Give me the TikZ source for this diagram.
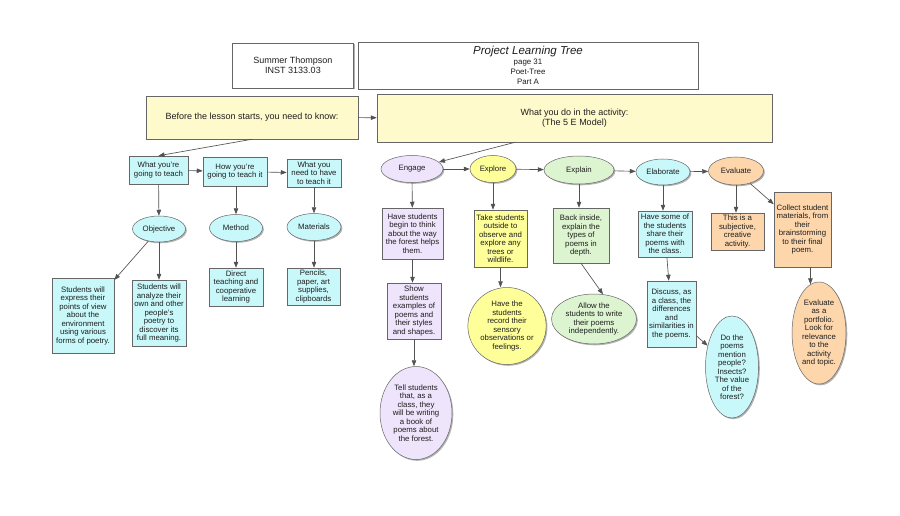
\documentclass[tikz,border=0pt]{standalone}
\usepackage{fontspec}
\setmainfont{Liberation Sans}
\usetikzlibrary{shapes.geometric,positioning,calc,shadows,arrows.meta}

\definecolor{cream}{HTML}{FFFACC}
\definecolor{aqua}{HTML}{C8F8FA}
\definecolor{lilac}{HTML}{EEE4FB}
\definecolor{lemon}{HTML}{FFFF99}
\definecolor{mint}{HTML}{DDF4D0}
\definecolor{peach}{HTML}{FDD6AC}
\definecolor{edge}{HTML}{666666}
\definecolor{ink}{HTML}{1E1E1E}

\begin{document}
\begin{tikzpicture}[x=1pt,y=-1pt]

        % Pixel grid of the page, origin top left
        \useasboundingbox (0,0) rectangle (900,516);
        \fill[white] (0,0) rectangle (900,516);

        % Looks of the boxes, the ovals and the arrows
        \tikzset{
            base/.style={draw=edge, line width=0.5pt, text=ink, align=center,
                inner sep=1pt, font=\fontsize{7.8}{8.5}\selectfont,
                drop shadow={shadow xshift=1.3pt, shadow yshift=-1.3pt,
                    fill=black, opacity=0.3}},
            card/.style args={#1x#2}{base, rectangle,
                minimum width=#1pt, minimum height=#2pt},
            oval/.style args={#1x#2}{base, ellipse,
                minimum width=#1pt, minimum height=#2pt},
            head/.style={font=\fontsize{9}{10}\selectfont},
            link/.style={draw=edge!80!black, line width=0.65pt,
                -{Triangle[length=6pt,width=4.5pt]}}
        }

        % Title and the two header bars
        \node (name) [card=121x45, fill=white, head] at (293, 65.5)
        {Summer Thompson\\INST 3133.03};
        \node (plt) [card=340x47, fill=white,
            font=\fontsize{7.9}{9.8}\selectfont] at (528, 65.5)
        {{\fontsize{11.5}{12}\selectfont\itshape Project Learning Tree}\\
            page 31\\Poet-Tree\\Part A};
        \node (before) [card=212x43, fill=cream, head] at (252, 117.5)
        {Before the lesson starts, you need to know:};
        \node (what) [card=395x48, fill=cream, head] at (574.5, 118)
        {What you do in the activity:\\(The 5 E Model)};

        % Left part: what, how and with what
        \begin{scope}[every node/.append style={fill=aqua}]
            \node (teach) [card=59x28] at (158.5, 170)
            {What you're\\going to teach};
            \node (how) [card=64x29] at (235, 171.5)
            {How you're\\going to teach it};
            \node (need) [card=54x28] at (314, 173)
            {What you\\need to have\\to teach it};
            \node (objective) [oval=53x26] at (159, 229) {Objective};
            \node (method) [oval=53x27] at (236, 228) {Method};
            \node (materials) [oval=54x27] at (314, 227) {Materials};
            \node (express) [card=62x75] at (83, 315.5)
            {Students will\\express their\\points of view\\about the\\
                environment\\using various\\forms of poetry.};
            \node (analyze) [card=54x66] at (159, 313)
            {Students will\\analyze their\\own and other\\people's\\
                poetry to\\discover its\\full meaning.};
            \node (direct) [card=54x38] at (236, 287)
            {Direct\\teaching and\\cooperative\\learning};
            \node (pencils) [card=53x37] at (313.5, 286.5)
            {Pencils,\\paper, art\\supplies,\\clipboards};
        \end{scope}

        % The five E's
        \node (engage) [oval=62x27, fill=lilac] at (412, 169) {Engage};
        \node (explore) [oval=46x27, fill=lemon] at (493, 169) {Explore};
        \node (explain) [oval=70x28, fill=mint] at (579, 170) {Explain};
        \node (elaborate) [oval=54x26, fill=aqua] at (663, 172) {Elaborate};
        \node (evaluate) [oval=55x28, fill=peach] at (736, 171) {Evaluate};

        % Engage
        \node (begin) [card=61x51, fill=lilac] at (412.5, 233.5)
        {Have students\\begin to think\\about the way\\the forest helps\\them.};
        \node (show) [card=54x56, fill=lilac] at (414, 311)
        {Show\\students\\examples of\\poems and\\their styles\\and shapes.};
        \node (tell) [oval=72x93, fill=lilac] at (416, 413)
        {Tell students\\that, as a\\class, they\\will be writing\\a book of\\
            poems about\\the forest.};

        % Explore
        \node (take) [card=53x57, fill=lemon] at (500.5, 238.5)
        {Take students\\outside to\\observe and\\explore any\\trees or\\wildlife.};
        \node (record) [oval=77x77, fill=lemon] at (507, 326)
        {Have the\\students\\record their\\sensory\\observations or\\feelings.};

        % Explain
        \node (back) [card=56x55, fill=mint] at (581, 235.5)
        {Back inside,\\explain the\\types of\\poems in\\depth.};
        \node (allow) [oval=85x50, fill=mint] at (594, 319)
        {Allow the\\students to write\\their poems\\independently.};

        % Elaborate
        \node (share) [card=54x46, fill=aqua] at (665, 234)
        {Have some of\\the students\\share their\\poems with\\the class.};
        \node (discuss) [card=49x66, fill=aqua] at (671.5, 314)
        {Discuss, as\\a class, the\\differences\\and\\similarities in\\the poems.};
        \node (mention) [oval=53x102, fill=aqua] at (732, 367)
        {Do the\\poems\\mention\\people?\\Insects?\\The value\\of the\\forest?};

        % Evaluate
        \node (subjective) [card=53x37, fill=peach] at (737.5, 231.5)
        {This is a\\subjective,\\creative\\activity.};
        \node (collect) [card=57x75, fill=peach] at (802.5, 229.5)
        {Collect student\\materials, from\\their\\brainstorming\\
            to their final\\poem.};
        \node (portfolio) [oval=54x102, fill=peach] at (819, 333)
        {Evaluate\\as a\\portfolio.\\Look for\\relevance\\to the\\
            activity\\and topic.};

        \begin{scope}[link]
            \draw (before) -- (what);
            \draw (before.south) -- (teach.north);
            \draw ($(what.south west)!0.35!(what.south east)$) -- (engage);
            \draw (teach) -- (how);
            \draw (how) -- (need);
            \draw (teach) -- (objective);
            \draw (how.south -| method) -- (method);
            \draw (need) -- (materials);
            \draw (objective) -- (express);
            \draw (objective) -- (analyze);
            \draw (method) -- (direct);
            \draw (materials) -- (pencils.north -| materials);
            \draw (engage) -- (explore);
            \draw (explore) -- (explain);
            \draw (explain) -- (elaborate);
            \draw (elaborate) -- (evaluate);
            \draw (engage) -- (begin);
            \draw (begin.south) -- (begin.south |- show.north);
            \draw (show.south) -- (show.south |- tell.north);
            \draw (explore.south) -- (explore.south |- take.north);
            \draw (take.south) -- (take.south |- record.north);
            \draw (explain.south) -- (explain.south |- back.north);
            \draw (back.south) -- (allow.70);
            \draw (elaborate.south) -- (elaborate.south |- share.north);
            \draw (share) -- (discuss);
            \draw (discuss) -- (mention);
            \draw (evaluate.south) -- (evaluate.south |- subjective.north);
            \draw (evaluate) -- (collect);
            \draw (collect.south -| portfolio.100) -- (portfolio.100);
        \end{scope}

\end{tikzpicture}
\end{document}
